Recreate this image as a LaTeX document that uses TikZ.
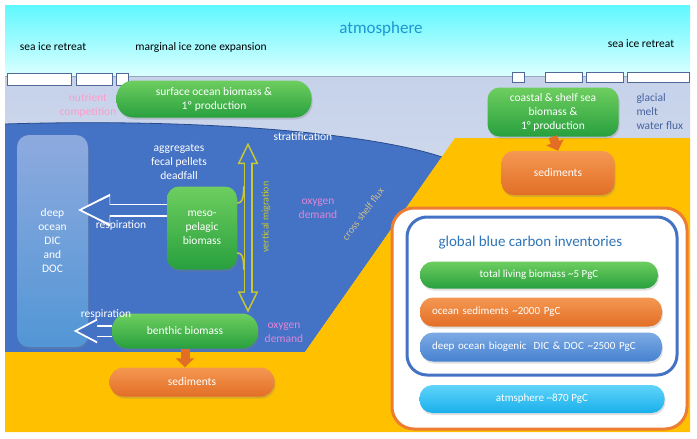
\documentclass[tikz,border=0pt]{standalone}
\usepackage{fontspec}
\setmainfont{Carlito}
\usetikzlibrary{arrows.meta,positioning,shadows,calc}
\tikzset{font=\fontsize{11.5}{14}\selectfont}
\definecolor{skytop}{RGB}{95,248,255}
\definecolor{skybot}{RGB}{220,255,255}
\definecolor{shtop}{RGB}{198,210,234}
\definecolor{shbot}{RGB}{222,229,243}
\definecolor{deepblue}{RGB}{68,114,196}
\definecolor{deepedge}{RGB}{40,75,140}
\definecolor{sand}{RGB}{255,192,0}
\definecolor{icecol}{RGB}{80,105,150}
\definecolor{grtop}{RGB}{110,206,95}
\definecolor{grbot}{RGB}{40,160,62}
\definecolor{ortop}{RGB}{245,152,82}
\definecolor{orbot}{RGB}{226,110,38}
\definecolor{coltop}{RGB}{142,170,222}
\definecolor{colbot}{RGB}{82,150,214}
\definecolor{bltop}{RGB}{125,170,228}
\definecolor{blbot}{RGB}{70,130,208}
\definecolor{cytop}{RGB}{95,212,250}
\definecolor{cybot}{RGB}{25,175,235}
\definecolor{atmcol}{RGB}{30,150,210}
\definecolor{titleblue}{RGB}{46,117,182}
\definecolor{nutrpink}{RGB}{245,160,205}
\definecolor{oxypink}{RGB}{222,135,215}
\definecolor{shelftan}{RGB}{205,188,140}
\definecolor{migcol}{RGB}{200,200,50}
\definecolor{glaccol}{RGB}{70,100,160}
\definecolor{panelor}{RGB}{237,125,49}
\tikzset{
  box/.style={rounded corners=12pt,text=white,align=center,inner sep=0pt,
    drop shadow={opacity=.3,shadow xshift=1pt,shadow yshift=-2pt}},
  greenbox/.style={box,top color=grtop,bottom color=grbot},
  orangebox/.style={box,top color=ortop,bottom color=orbot},
  bar/.style={rounded corners=13pt,text=white,inner sep=0pt,font=\fontsize{11}{13}\selectfont,
    drop shadow={opacity=.25,shadow xshift=1pt,shadow yshift=-2pt}},
  leftbar/.style={bar,text width=218pt,align=left,inner xsep=12pt},
  fatarrow/.style={line width=9pt,-{Triangle[length=9pt,width=18pt]}},
  resp/.style={white,line width=#1},
  migr/.style={migcol,line width=1.5pt}
}
\begin{document}
\begin{tikzpicture}[x=1pt,y=-1pt]
\useasboundingbox (0,0) rectangle (697,439);
% sky, surface water, deep ocean and shelf
\fill[top color=skytop,bottom color=skybot] (5,5) rectangle (690,76);
\fill[top color=shtop,bottom color=shbot] (5,76) rectangle (690,360);
\draw[icecol!60] (5,76) -- (690,76);
\fill[deepblue] (5,124) .. controls (200,118) and (370,133) .. (442,157) -- (305,352) -- (5,352) -- cycle;
\draw[deepedge,thick] (5,124) .. controls (200,118) and (370,133) .. (442,157);
\fill[sand] (5,352) -- (305,352) -- (455,138) -- (690,138) -- (690,432) -- (5,432) -- cycle;
% ice floes
\foreach \a/\b/\c/\d in {7/71/73/85, 76/112/73/85, 116/128/73/85, 512/524/72/82, 545/582/72/82, 586/623/72/82, 627/689/72/82}{
  \draw[icecol,fill=white] (\a,\c) rectangle (\b,\d);
}
% labels
\node[text=atmcol] (atm) at (381,29) {\fontsize{17}{20}\selectfont atmosphere};
\node (sirL) at (53,47) {sea ice retreat};
\node (miz) at (201,47) {marginal ice zone expansion};
\node (sirR) at (641,44) {sea ice retreat};
\node[text=nutrpink,align=center] (nutr) at (88,105) {nutrient\\competition};
\node[text=glaccol,align=left,anchor=west] (glac) at (633,112) {glacial\\melt\\water flux};
% boxes
\node[greenbox,minimum width=195pt,minimum height=37pt,rounded corners=17pt] (surfL) at (214,99)
  {surface ocean biomass \&\\1º production};
\node[greenbox,minimum width=131pt,minimum height=49pt] (surfR) at (553,112)
  {coastal \& shelf sea\\biomass \&\\1° production};
\node[orangebox,minimum width=113pt,minimum height=44pt] (sedR) at (558,173) {sediments};
\node[box,top color=coltop,bottom color=colbot,minimum width=71pt,minimum height=212pt] (deep) at (52.5,241)
  {deep\\ocean\\DIC\\and\\DOC};
\node[greenbox,minimum width=70pt,minimum height=83pt] (meso) at (202,228)
  {meso-\\pelagic\\biomass};
\node[greenbox,minimum width=146pt,minimum height=35pt,rounded corners=16pt] (benthic) at (185,331)
  {benthic biomass};
\node[orangebox,minimum width=165pt,minimum height=29pt,rounded corners=14pt] (sedL) at (192,382) {sediments};
% arrows
\draw[orbot,fatarrow] (surfR.south) -- (sedR.north);
\draw[orbot,fatarrow] (benthic.south) -- (benthic.south |- sedL.north);
\draw[resp=13pt,-{Triangle[length=33pt,width=30pt]},shorten >=-11pt] ([yshift=18pt]meso.west) -- ([yshift=18pt]meso.west -| deep.east);
\draw[deepblue,line width=10pt,-{Triangle[length=28.5pt,width=25pt]},shorten >=-7pt] ([yshift=18pt]meso.west) -- ([yshift=18pt]meso.west -| deep.east);
\draw[resp=12pt,-{Triangle[length=24pt,width=23pt]},shorten >=-15pt] (benthic.west) -- (benthic.west -| deep.east);
\draw[deepblue,line width=9pt,-{Triangle[length=20pt,width=19pt]},shorten >=-11pt] (benthic.west) -- (benthic.west -| deep.east);
\coordinate (vtop) at (248,142);
\draw[migcol,line width=9pt,{Triangle[length=22pt,width=19pt]}-{Triangle[length=22pt,width=19pt]}] (vtop) -- (vtop |- benthic.north);
\draw[deepblue,line width=6pt,{Triangle[length=16.7pt,width=14.4pt]}-{Triangle[length=16.7pt,width=14.4pt]},shorten <=3.8pt,shorten >=3.8pt] (vtop) -- (vtop |- benthic.north);
\draw[migr] ([yshift=25pt]meso.east) to[out=0,in=-90] ([xshift=-4.5pt]vtop |- meso.north);
\draw[migr] ([yshift=-25pt]meso.east) to[out=0,in=90] ([xshift=-4.5pt]vtop |- meso.south);
% ocean labels
\node[text=white,align=center] (aggr) at (179,162) {aggregates\\fecal pellets\\deadfall};
\node[text=white] (respU) at (121,225) {respiration};
\node[text=white] (respL) at (106,314) {respiration};
\node[text=white] (strat) at (303,137) {stratification};
\node[text=migcol,rotate=90,font=\fontsize{10}{12}\selectfont] (vmig) at (266,217) {vertical migration};
\node[text=oxypink,align=center] (oxyU) at (318,209) {oxygen\\demand};
\node[text=oxypink,align=center] (oxyL) at (284,333) {oxygen\\demand};
\node[text=shelftan,rotate=53,font=\fontsize{10.5}{12}\selectfont] (shelf) at (363,214) {cross shelf flux};
% inventories
\node[draw=panelor,line width=3pt,fill=white,rounded corners=22pt,minimum width=295pt,minimum height=221pt] (panel) at (539.5,318.5) {};
\node[draw=deepblue,line width=3pt,rounded corners=20pt,minimum width=270pt,minimum height=158pt] (inv) at (542,296) {};
\node[text=titleblue,anchor=west] (title) at (435,243) {\fontsize{15}{18}\selectfont global blue carbon inventories};
\node[bar,top color=grtop,bottom color=grbot,minimum width=238pt,minimum height=27pt] (living) at (539,275) {total living biomass \textasciitilde5 PgC};
\node[leftbar,top color=ortop,bottom color=orbot,minimum height=29pt] (oceansed) at (541,312) {ocean sediments \textasciitilde2000 PgC};
\node[leftbar,top color=bltop,bottom color=blbot,minimum height=29pt] (dicdoc) at (541,347) {deep ocean biogenic\ \ DIC \& DOC \textasciitilde2500 PgC};
\node[bar,top color=cytop,bottom color=cybot,minimum width=245pt,minimum height=28pt] (atmbar) at (542,399) {atmsphere \textasciitilde870 PgC};
\end{tikzpicture}
\end{document}
